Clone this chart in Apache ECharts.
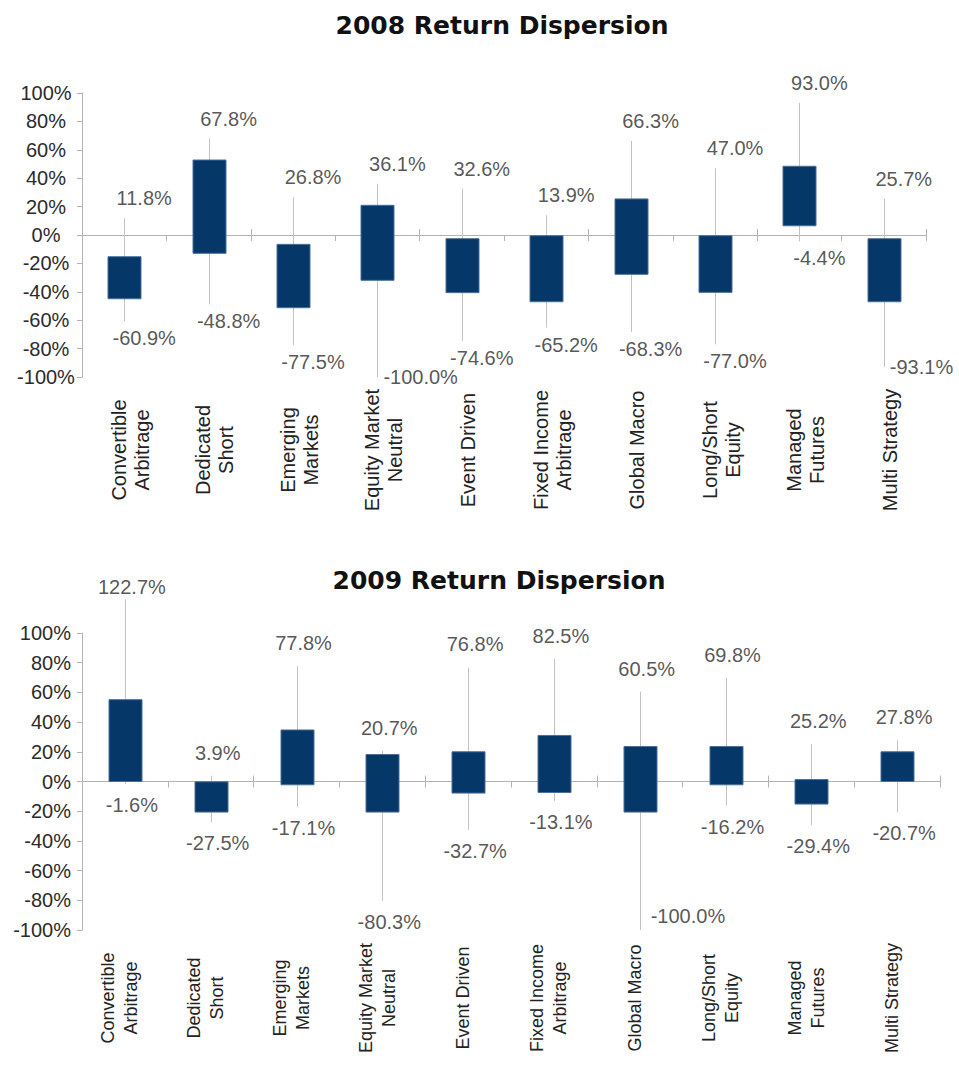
<!DOCTYPE html>
<html>
<head>
<meta charset="utf-8">
<script src="https://cdn.jsdelivr.net/npm/echarts@6/dist/echarts.min.js"></script>
<style>
html,body{margin:0;padding:0;background:#fff;}
#chart{width:959px;height:1068px;}
</style>
</head>
<body>
<div id="chart"></div>
<script>
const categories = ['Convertible\nArbitrage','Dedicated\nShort','Emerging\nMarkets','Equity Market\nNeutral','Event Driven','Fixed Income\nArbitrage','Global Macro','Long/Short\nEquity','Managed\nFutures','Multi Strategy'];

const titles = ['2008 Return Dispersion', '2009 Return Dispersion'];

const high2008      = [11.8, 67.8, 26.8, 36.1, 32.6, 13.9, 66.3, 47.0, 93.0, 25.7];
const low2008       = [-60.9, -48.8, -77.5, -100.0, -74.6, -65.2, -68.3, -77.0, -4.4, -93.1];
const boxTop2008    = [-15.3, 52.8, -6.6, 20.9, -2.6, -0.5, 25.4, -0.5, 48.4, -2.6];
const boxBottom2008 = [-44.9, -12.9, -51.2, -31.9, -40.6, -47.0, -27.7, -40.4, 6.5, -47.0];

const high2009      = [122.7, 3.9, 77.8, 20.7, 76.8, 82.5, 60.5, 69.8, 25.2, 27.8];
const low2009       = [-1.6, -27.5, -17.1, -80.3, -32.7, -13.1, -100.0, -16.2, -29.4, -20.7];
const boxTop2009    = [55.1, -0.2, 34.7, 18.2, 20.0, 31.0, 23.6, 23.6, 1.3, 20.0];
const boxBottom2009 = [0.0, -20.6, -2.2, -20.6, -7.8, -7.4, -20.6, -2.2, -15.2, 0.0];

const FONT = 'Liberation Sans, Arial, sans-serif';
const BOX = '#053769';
const BOX_EDGE = '#4a6f96';
const WHISKER = '#c2c2c2';
const AXIS = '#b3b3b3';
const TEXT = '#2b2b2b';

const chart = echarts.init(document.getElementById('chart'), null, {renderer: 'svg'});

function pct(v) { return v.toFixed(1) + '%'; }

function catFormatter(v) {
  return v.split('\n').map(s => '{c|' + s + '}').join('\n');
}

const panels = [
  {high: high2008, low: low2008, top: boxTop2008, bot: boxBottom2008,
   grid: {left: 82, top: 93, width: 844, height: 284},
   yAlign: 'center', yMargin: 36, xMargin: 73, catFont: 20, catPad: [12, 0, 0, 0],
   labelDx: 20, hiDist: 10, loDist: 7, sideDy: 0, sideDist: 6},
  {high: high2009, low: low2009, top: boxTop2009, bot: boxBottom2009,
   grid: {left: 82, top: 633, width: 858, height: 297},
   yAlign: 'right', yMargin: 11, xMargin: 68, catFont: 18, catPad: [0, 0, 10, 0],
   labelDx: 7, hiDist: 13, loDist: 11, sideDy: -14, sideDist: 11}
];

const option = {
  animation: false,
  backgroundColor: '#ffffff',
  title: [
    {text: titles[0], left: 497, top: 8, textAlign: 'center',
     textStyle: {fontFamily: 'DejaVu Sans', fontWeight: 'bold', fontSize: 25, color: '#111'}},
    {text: titles[1], left: 494, top: 563, textAlign: 'center',
     textStyle: {fontFamily: 'DejaVu Sans', fontWeight: 'bold', fontSize: 25, color: '#111'}}
  ],
  grid: [], xAxis: [], yAxis: [], series: []
};

const nPanels = panels.length;

panels.forEach((p, gi) => {
  option.grid.push(Object.assign({containLabel: false, outerBoundsMode: 'none'}, p.grid));
  // main value axis
  option.yAxis[gi] = {
    type: 'value', gridIndex: gi, min: -100, max: 100, interval: 20, position: 'left',
    axisLine: {show: true, lineStyle: {color: AXIS}},
    axisTick: {show: true, length: 5, lineStyle: {color: AXIS}},
    splitLine: {show: false},
    axisLabel: {formatter: '{value}%', align: p.yAlign, margin: p.yMargin,
      fontFamily: FONT, fontSize: 20, color: TEXT}
  };
  // hidden twin value axis (for the upward zero-line ticks)
  option.yAxis[nPanels + gi] = {
    type: 'value', gridIndex: gi, min: -100, max: 100, interval: 20, position: 'right',
    show: false
  };
  // main category axis on zero with labels and downward ticks
  option.xAxis.push({
    type: 'category', gridIndex: gi, data: categories, position: 'bottom',
    boundaryGap: true,
    axisLine: {onZero: true, onZeroAxisIndex: gi, lineStyle: {color: AXIS, width: 1}},
    axisTick: {show: true, length: 6, lineStyle: {color: AXIS}},
    axisLabel: {
      rotate: 90, interval: 0, margin: p.xMargin, align: 'center', verticalAlign: 'middle',
      padding: p.catPad,
      formatter: catFormatter,
      rich: {c: {align: 'center', fontFamily: FONT, fontSize: p.catFont, lineHeight: 23, color: '#222'}}
    },
    splitLine: {show: false}
  });
  // second category axis on zero for upward ticks
  option.xAxis.push({
    type: 'category', gridIndex: gi, data: categories, position: 'top',
    boundaryGap: true,
    axisLine: {show: false, onZero: true, onZeroAxisIndex: nPanels + gi},
    axisTick: {show: true, length: 6, lineStyle: {color: AXIS}},
    axisLabel: {show: false},
    splitLine: {show: false}
  });

  const xIdx = gi * 2;
  const boxData = categories.map((c, i) => [i, p.high[i], p.low[i], p.top[i], p.bot[i]]);
  option.series.push({
    type: 'custom', xAxisIndex: xIdx, yAxisIndex: gi, clip: false,
    data: boxData,
    encode: {x: 0, y: [1, 2, 3, 4]},
    renderItem: function (params, api) {
      const i = api.value(0);
      const ph = api.coord([i, api.value(1)]);
      const pl = api.coord([i, api.value(2)]);
      const pt = api.coord([i, Math.max(api.value(3), api.value(4))]);
      const pb = api.coord([i, Math.min(api.value(3), api.value(4))]);
      const bw = Math.round(api.size([1, 0])[0] * 0.39);
      const cx = Math.round(ph[0]) + 0.5;
      return {type: 'group', children: [
        {type: 'line', shape: {x1: cx, y1: ph[1], x2: cx, y2: pl[1]},
         style: {stroke: WHISKER, lineWidth: 1}},
        {type: 'rect', shape: {x: Math.round(cx - bw / 2), y: pt[1], width: bw, height: pb[1] - pt[1]},
         style: {fill: BOX, stroke: BOX_EDGE, lineWidth: 1}}
      ]};
    }
  });

  // high labels
  option.series.push({
    type: 'scatter', xAxisIndex: xIdx, yAxisIndex: gi, clip: false,
    symbolSize: 0, silent: true,
    data: p.high.map((v, i) => {
      const item = {value: [i, v]};
      if (v > 100) item.label = {distance: 2};
      return item;
    }),
    label: {show: true, position: 'top', distance: p.hiDist, offset: [p.labelDx, 0],
      formatter: d => pct(d.value[1]), fontFamily: FONT, fontSize: 20, lineHeight: 20, color: TEXT}
  });
  // low labels
  option.series.push({
    type: 'scatter', xAxisIndex: xIdx, yAxisIndex: gi, clip: false,
    symbolSize: 0, silent: true,
    data: p.low.map((v, i) => {
      const item = {value: [i, v]};
      if (v <= -85) {
        item.label = {position: 'right', distance: p.sideDist, offset: [0, p.sideDy]};
      }
      return item;
    }),
    label: {show: true, position: 'bottom', distance: p.loDist, offset: [p.labelDx, 0],
      formatter: d => pct(d.value[1]), fontFamily: FONT, fontSize: 20, lineHeight: 20, color: TEXT}
  });
});

chart.setOption(option);
</script>
</body>
</html>
